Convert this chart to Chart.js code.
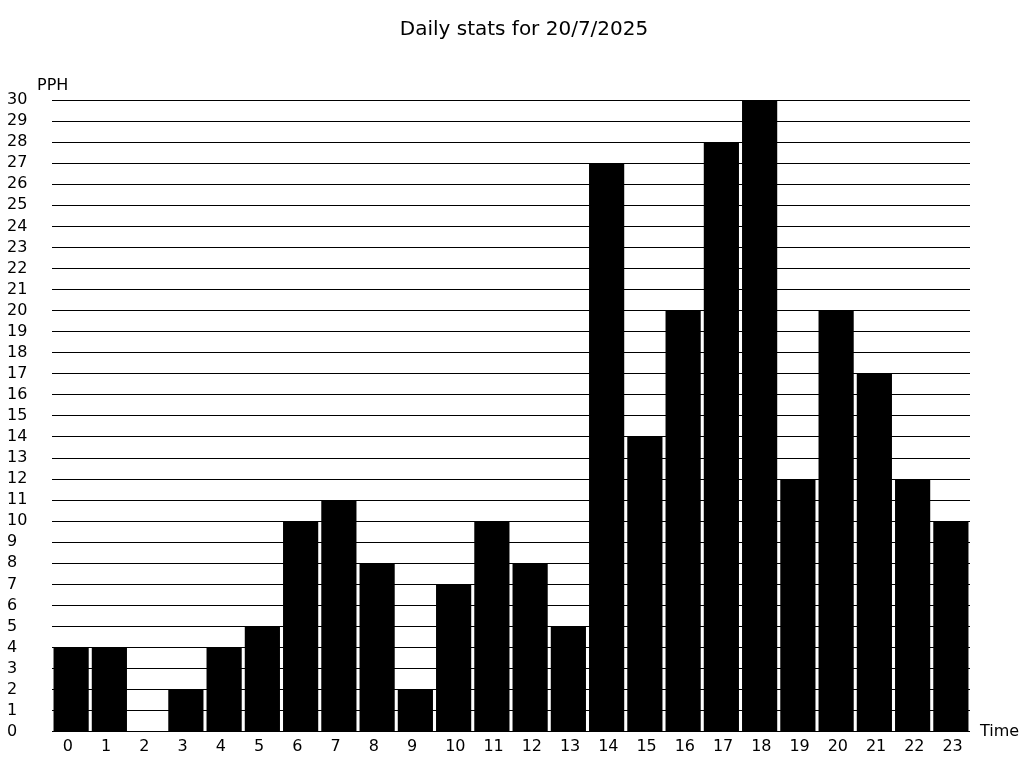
<!DOCTYPE html>
<html lang="en">
<head>
  <meta charset="UTF-8">
  <title>Daily stats</title>
  <script src="https://cdn.jsdelivr.net/npm/chart.js"></script>
  <style>
    html, body { margin: 0; padding: 0; background: #fff; }
    #wrap { width: 1024px; height: 768px; }
  </style>
</head>
<body>

<div id="wrap">
  <canvas id="statsChart" width="1024" height="768"></canvas>
</div>

<script>
const hours = ['0','1','2','3','4','5','6','7','8','9','10','11','12','13','14','15','16','17','18','19','20','21','22','23'];
const pph = [4, 4, 0, 2, 4, 5, 10, 11, 8, 2, 7, 10, 8, 5, 27, 14, 20, 28, 30, 12, 20, 17, 12, 10];
const yMin = 0;
const yMax = 30;
const chartTitle = 'Daily stats for 20/7/2025';

const fontFamily = "'DejaVu Sans', sans-serif";

// title is centred on the page, PPH above the y axis, Time right of the x axis
const captions = {
  id: 'captions',
  afterDraw(chart) {
    const ctx = chart.ctx;
    const area = chart.chartArea;
    ctx.save();
    ctx.fillStyle = '#000';
    ctx.textBaseline = 'middle';
    ctx.font = '20px ' + fontFamily;
    ctx.textAlign = 'center';
    ctx.fillText(chartTitle, 524, 30);
    ctx.font = '16px ' + fontFamily;
    ctx.textAlign = 'left';
    ctx.fillText('PPH', 37, area.top - 14);
    ctx.fillText('Time', area.right + 10, area.bottom);
    ctx.restore();
  }
};

new Chart(document.getElementById('statsChart'), {
  type: 'bar',
  data: {
    labels: hours,
    datasets: [{
      label: 'PPH',
      data: pph,
      backgroundColor: '#000',
      borderWidth: 0,
      barPercentage: 0.92,
      categoryPercentage: 1
    }]
  },
  options: {
    responsive: false,
    animation: false,
    layout: { padding: { left: 7, right: 54, top: 100, bottom: 7 } },
    plugins: {
      legend: { display: false },
      tooltip: { enabled: false },
      title: { display: false }
    },
    scales: {
      x: {
        grid: { display: false, drawTicks: false, tickLength: 0 },
        border: { display: false },
        ticks: {
          color: '#000',
          font: { family: fontFamily, size: 16 },
          padding: 5,
          align: 'start',
          labelOffset: -8.5,
          maxRotation: 0,
          autoSkip: false
        }
      },
      y: {
        min: yMin,
        max: yMax,
        border: { display: false },
        grid: { color: '#000', lineWidth: 1, drawTicks: false },
        ticks: {
          stepSize: 1,
          autoSkip: false,
          color: '#000',
          font: { family: fontFamily, size: 16 },
          crossAlign: 'far',
          padding: 25
        },
        afterFit(scale) { scale.width = 45; }
      }
    }
  },
  plugins: [captions]
});
</script>

</body>
</html>
